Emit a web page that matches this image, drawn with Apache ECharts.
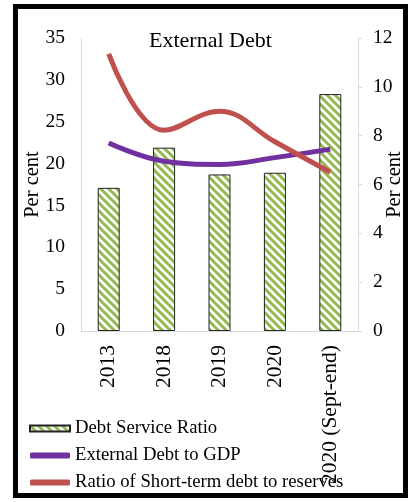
<!DOCTYPE html>
<html>
<head>
<meta charset="utf-8">
<script src="https://cdn.jsdelivr.net/npm/echarts@6/dist/echarts.min.js"></script>
<style>html,body{margin:0;padding:0;background:#fff}#c{width:410px;height:502px}</style>
</head>
<body>
<div id="c"></div>
<script>
var categories = ['2013', '2018', '2019', '2020', '2020 (Sept-end)'];
var debtServiceRatio = [17.1, 21.9, 18.7, 18.9, 28.3];
var externalDebtToGDP = [7.7, 6.95, 6.82, 7.1, 7.45];
var shortTermToReserves = [11.35, 8.22, 9.0, 7.75, 6.5];
var leftTicks = {min: 0, max: 35, interval: 5};
var rightTicks = {min: 0, max: 12, interval: 2};

var FONT = '"Liberation Serif", "Times New Roman", serif';

function stripePattern() {
  var P = 8;
  var cv = document.createElement('canvas');
  cv.width = P; cv.height = P;
  var ctx = cv.getContext('2d');
  ctx.fillStyle = '#ffffff';
  ctx.fillRect(0, 0, P, P);
  ctx.strokeStyle = '#92b84f';
  ctx.lineWidth = 3;
  for (var k = -1; k <= 1; k++) {
    ctx.beginPath();
    ctx.moveTo(k * P - 1, -1);
    ctx.lineTo(k * P + P + 1, P + 1);
    ctx.stroke();
  }
  return {image: cv, repeat: 'repeat'};
}

var chart = echarts.init(document.getElementById('c'), null, {renderer: 'canvas'});
var pattern = stripePattern();
chart.setOption({
  animation: false,
  textStyle: {fontFamily: FONT, color: '#000'},
  title: {
    text: 'External Debt', left: 144, top: 25,
    textStyle: {fontFamily: FONT, fontSize: 22, fontWeight: 'normal', color: '#000'}
  },
  graphic: [{
    type: 'rect', shape: {x: 15.5, y: 6.5, width: 390, height: 489},
    style: {fill: 'none', stroke: '#000', lineWidth: 5}, z: 100
  }],
  grid: {left: 81, right: 52, top: 38, bottom: 171, outerBoundsMode: 'none', containLabel: false},
  legend: {
    orient: 'vertical', left: 24, top: 414, itemGap: 8, itemWidth: 40, itemHeight: 6,
    textStyle: {fontFamily: FONT, fontSize: 18.7, color: '#000'},
    data: [
      {name: 'Debt Service Ratio', icon: 'rect'},
      {name: 'External Debt to GDP', icon: 'roundRect'},
      {name: 'Ratio of Short-term debt to reserves', icon: 'roundRect'}
    ]
  },
  xAxis: {
    type: 'category', data: categories,
    axisLine: {show: true, lineStyle: {color: '#d9d9d9', width: 1}},
    axisTick: {show: false},
    axisLabel: {rotate: 90, margin: 14, fontFamily: FONT, fontSize: 21.5, color: '#000', interval: 0}
  },
  yAxis: [{
    type: 'value', min: leftTicks.min, max: leftTicks.max, interval: leftTicks.interval,
    name: 'Per cent', nameLocation: 'middle', nameRotate: 90, nameGap: 38, nameMoveOverlap: false,
    nameTextStyle: {fontFamily: FONT, fontSize: 20.5, color: '#000'},
    axisLine: {show: true, lineStyle: {color: '#d9d9d9', width: 1}},
    axisTick: {show: false},
    splitLine: {show: false},
    axisLabel: {margin: 16, fontFamily: FONT, fontSize: 19.5, color: '#000'}
  }, {
    type: 'value', min: rightTicks.min, max: rightTicks.max, interval: rightTicks.interval,
    position: 'right',
    name: 'Per cent', nameLocation: 'middle', nameRotate: 90, nameGap: 26, nameMoveOverlap: false,
    nameTextStyle: {fontFamily: FONT, fontSize: 20.5, color: '#000'},
    axisLine: {show: true, lineStyle: {color: '#d9d9d9', width: 1}},
    axisTick: {show: true, length: 4, lineStyle: {color: '#d9d9d9'}},
    splitLine: {show: false},
    axisLabel: {margin: 15, fontFamily: FONT, fontSize: 19.5, color: '#000'}
  }],
  series: [{
    name: 'Debt Service Ratio', type: 'bar', data: debtServiceRatio, barWidth: 22,
    itemStyle: {color: pattern, borderColor: '#222', borderWidth: 1}
  }, {
    name: 'External Debt to GDP', type: 'line', yAxisIndex: 1, data: externalDebtToGDP,
    smooth: 0.4, symbol: 'none', lineStyle: {color: '#7030a0', width: 5}, itemStyle: {color: '#7030a0'}
  }, {
    name: 'Ratio of Short-term debt to reserves', type: 'line', yAxisIndex: 1, data: shortTermToReserves,
    smooth: 0.4, symbol: 'none', lineStyle: {color: '#c0504d', width: 5}, itemStyle: {color: '#c0504d'}
  }]
});
</script>
</body>
</html>
